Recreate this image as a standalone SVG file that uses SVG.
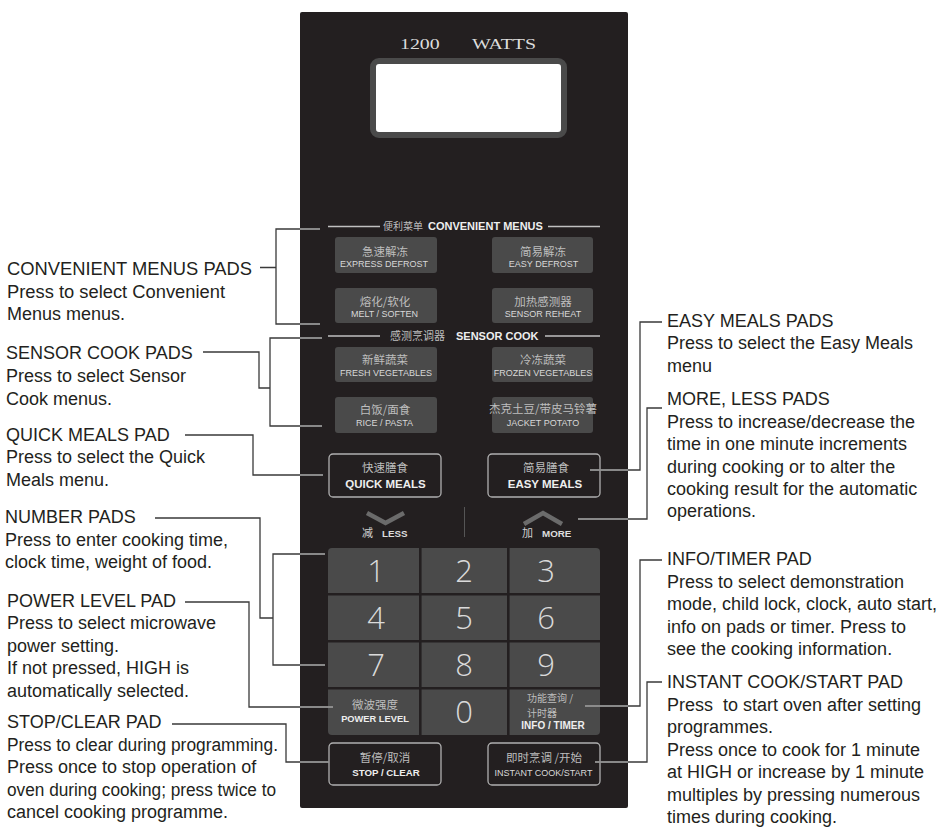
<svg xmlns="http://www.w3.org/2000/svg" xmlns:xlink="http://www.w3.org/1999/xlink" width="946" height="829" viewBox="0 0 946 829">
<style>
.lbl{font-family:"Liberation Sans",Arial,sans-serif;font-size:18px;fill:#231f20}
.cn{font-family:"Noto Sans CJK SC",sans-serif;fill:#bdbdbd;text-anchor:middle;font-size:11.5px}
.en{font-family:"Liberation Sans",Arial,sans-serif;fill:#d8d8d8;text-anchor:middle;font-size:9px}
.enb{font-family:"Liberation Sans",Arial,sans-serif;fill:#eeeeee;text-anchor:middle;font-weight:bold}
.btn{fill:#4a4a4a}
.obtn{fill:none;stroke:#b0b0b0;stroke-width:1.3}
.digit{font-family:"Open Sans",sans-serif;font-weight:300;font-size:31px;fill:#dadada;text-anchor:middle}
.hdr{stroke:#c0c0c0;stroke-width:1.5}
.chev{fill:none;stroke:#6b6b6b;stroke-width:4.5}
</style>
<defs>
<clipPath id="panelClip"><rect x="300" y="12" width="328" height="796"/></clipPath>
</defs>
<rect width="946" height="829" fill="#ffffff"/>

<g id="panel">
<rect x="300" y="12" width="328" height="796" rx="2" fill="#231f20"/>
<g transform="translate(400,49) scale(1.42,1)" font-family="Liberation Serif,serif" font-size="14" fill="#dcdcdc">
<text x="0" y="0">1200</text>
<text x="50.7" y="0">WATTS</text>
</g>
</g>

<g id="display">
<rect x="373" y="61" width="191" height="74" rx="6" fill="#ffffff" stroke="#4a4a4a" stroke-width="6"/>
</g>

<g id="hdr-convenient">
<line class="hdr" x1="328" y1="226.5" x2="380" y2="226.5"/>
<line class="hdr" x1="548" y1="226.5" x2="600" y2="226.5"/>
<text x="383" y="230" font-family="Noto Sans CJK SC,sans-serif" font-size="10" fill="#bdbdbd">便利菜单</text>
<text x="428" y="229.5" font-family="Liberation Sans,Arial,sans-serif" font-size="11" font-weight="bold" fill="#eeeeee">CONVENIENT MENUS</text>
</g>

<g id="btn-express-defrost">
<rect class="btn" x="335" y="237" width="102" height="36" rx="3"/>
<text class="cn" x="385" y="256">急速解冻</text>
<text class="en" x="384" y="267" font-size="9.5">EXPRESS DEFROST</text>
</g>
<g id="btn-easy-defrost">
<rect class="btn" x="492" y="237" width="101" height="36" rx="3"/>
<text class="cn" x="543" y="256">简易解冻</text>
<text class="en" x="543.5" y="267" font-size="8.8">EASY DEFROST</text>
</g>
<g id="btn-melt-soften">
<rect class="btn" x="335" y="288" width="102" height="35" rx="3"/>
<text class="cn" x="385" y="306">熔化/软化</text>
<text class="en" x="384.5" y="317" font-size="9.5">MELT / SOFTEN</text>
</g>
<g id="btn-sensor-reheat">
<rect class="btn" x="492" y="288" width="101" height="35" rx="3"/>
<text class="cn" x="543" y="306">加热感测器</text>
<text class="en" x="543" y="317" font-size="8.7">SENSOR REHEAT</text>
</g>

<g id="hdr-sensor">
<line class="hdr" x1="328" y1="336" x2="380" y2="336"/>
<line class="hdr" x1="545" y1="336" x2="600" y2="336"/>
<text x="390" y="340" font-family="Noto Sans CJK SC,sans-serif" font-size="11" fill="#bdbdbd">感测烹调器</text>
<text x="456" y="339.5" font-family="Liberation Sans,Arial,sans-serif" font-size="11" font-weight="bold" fill="#eeeeee">SENSOR COOK</text>
</g>

<g id="btn-fresh-veg">
<rect class="btn" x="335" y="347" width="102" height="35" rx="3"/>
<text class="cn" x="385" y="364">新鲜蔬菜</text>
<text class="en" x="386" y="376" font-size="8.4">FRESH VEGETABLES</text>
</g>
<g id="btn-frozen-veg">
<rect class="btn" x="492" y="347" width="101" height="35" rx="3"/>
<text class="cn" x="543" y="364">冷冻蔬菜</text>
<text class="en" x="543" y="376" font-size="8.4">FROZEN VEGETABLES</text>
</g>
<g id="btn-rice-pasta">
<rect class="btn" x="335" y="397" width="102" height="36" rx="3"/>
<text class="cn" x="385" y="414">白饭/面食</text>
<text class="en" x="384.5" y="426" font-size="9.5">RICE / PASTA</text>
</g>
<g id="btn-jacket-potato">
<rect class="btn" x="492" y="397" width="101" height="36" rx="3"/>
<text class="cn" x="543" y="413" font-size="9">杰克土豆/带皮马铃薯</text>
<text class="en" x="543" y="426" font-size="8.8">JACKET POTATO</text>
</g>

<g id="btn-quick-meals">
<rect class="obtn" x="329" y="454" width="112" height="43" rx="4"/>
<text class="cn" x="385" y="472">快速膳食</text>
<text class="enb" x="385.5" y="488" font-size="11.5">QUICK MEALS</text>
</g>
<g id="btn-easy-meals">
<rect class="obtn" x="488" y="454" width="112" height="43" rx="4"/>
<text class="cn" x="546" y="472">简易膳食</text>
<text class="enb" x="545" y="488" font-size="11.5">EASY MEALS</text>
</g>

<g id="btn-less">
<polyline class="chev" points="367,513 385.5,523 404,513"/>
<text x="362" y="537" font-family="Noto Sans CJK SC,sans-serif" font-size="11" fill="#cfcfcf">减</text>
<text x="382" y="537" font-family="Liberation Sans,Arial,sans-serif" font-size="9.8" font-weight="bold" fill="#dddddd">LESS</text>
</g>
<line x1="464.5" y1="507" x2="464.5" y2="537" stroke="#555555" stroke-width="1"/>
<g id="btn-more">
<polyline class="chev" points="524,524 543,513 562,524"/>
<text x="522" y="537" font-family="Noto Sans CJK SC,sans-serif" font-size="11" fill="#cfcfcf">加</text>
<text x="542" y="537" font-family="Liberation Sans,Arial,sans-serif" font-size="9.8" font-weight="bold" fill="#dddddd">MORE</text>
</g>

<g id="number-pad">
<rect x="328" y="548" width="272" height="187" rx="4" fill="#4a4a4a"/>
<g stroke="#231f20" stroke-width="2.6">
<line x1="420.3" y1="548" x2="420.3" y2="735"/>
<line x1="508.3" y1="548" x2="508.3" y2="735"/>
<line x1="328" y1="594.2" x2="600" y2="594.2"/>
<line x1="328" y1="641.3" x2="600" y2="641.3"/>
<line x1="328" y1="688.3" x2="600" y2="688.3"/>
</g>
<text class="digit" x="376" y="582">1</text>
<text class="digit" x="464" y="582">2</text>
<text class="digit" x="546" y="582">3</text>
<text class="digit" x="376" y="629">4</text>
<text class="digit" x="464" y="629">5</text>
<text class="digit" x="546" y="629">6</text>
<text class="digit" x="376" y="676">7</text>
<text class="digit" x="464" y="676">8</text>
<text class="digit" x="546" y="676">9</text>
<text class="digit" x="464" y="723">0</text>
</g>
<g id="btn-power-level">
<text class="cn" x="375" y="709" font-size="11">微波强度</text>
<text class="enb" x="375" y="722" font-size="9.3">POWER LEVEL</text>
</g>
<g id="btn-info-timer">
<text x="527" y="702" font-family="Noto Sans CJK SC,sans-serif" font-size="10" fill="#bdbdbd">功能查询 /</text>
<text x="527" y="716.5" font-family="Noto Sans CJK SC,sans-serif" font-size="10" fill="#bdbdbd">计时器</text>
<text class="enb" x="553" y="728.5" font-size="10">INFO / TIMER</text>
</g>

<g id="btn-stop-clear">
<rect class="obtn" x="329" y="743" width="112" height="42" rx="4"/>
<text class="cn" x="385" y="762">暂停/取消</text>
<text class="enb" x="386" y="776" font-size="9.7">STOP / CLEAR</text>
</g>
<g id="btn-instant-cook">
<rect class="obtn" x="488" y="743" width="112" height="42" rx="4"/>
<text class="cn" x="544" y="762">即时烹调 /开始</text>
<text class="en" x="543.5" y="776" font-size="9.2" fill="#e6e6e6">INSTANT COOK/START</text>
</g>

<g id="connectors">
<g stroke="#3a3a3a">
<g id="conn-lines" fill="none" stroke-width="1.3">
<path d="M260,267.5 H276 M320,229 H276 V324 H320"/>
<path d="M203,352 H259 V388 H270 M322,338 H270 V426 H322"/>
<path d="M185,435 H253 V475 H323"/>
<path d="M155,518 H260 V618 H273 M325,554 H273 V665 H325"/>
<path d="M185,602 H249 V707 H333"/>
<path d="M172,724 H286 V762 H329"/>
<path d="M662,322 H640 V470 H590"/>
<path d="M662,408 H647 V519 H578"/>
<path d="M662,560 H640 V706 H585"/>
<path d="M662,682 H647 V762 H595"/>
</g>
</g>
<use xlink:href="#conn-lines" href="#conn-lines" clip-path="url(#panelClip)" stroke="#a6a6a6"/>
</g>

<g id="label-convenient">
<text class="lbl" x="7" y="275" textLength="245" lengthAdjust="spacingAndGlyphs">CONVENIENT MENUS PADS</text>
<text class="lbl" x="7" y="297.5" textLength="218" lengthAdjust="spacingAndGlyphs">Press to select Convenient</text>
<text class="lbl" x="7" y="320">Menus menus.</text>
</g>
<g id="label-sensor">
<text class="lbl"><tspan x="6" y="359">SENSOR COOK PADS</tspan><tspan x="6" y="382">Press to select Sensor</tspan><tspan x="6" y="405">Cook menus.</tspan></text>
</g>
<g id="label-quick">
<text class="lbl"><tspan x="6" y="441">QUICK MEALS PAD</tspan><tspan x="6" y="463">Press to select the Quick</tspan><tspan x="6" y="486">Meals menu.</tspan></text>
</g>
<g id="label-number">
<text class="lbl"><tspan x="5" y="523">NUMBER PADS</tspan><tspan x="5" y="546">Press to enter cooking time,</tspan><tspan x="5" y="568">clock time, weight of food.</tspan></text>
</g>
<g id="label-power">
<text class="lbl"><tspan x="7" y="607">POWER LEVEL PAD</tspan><tspan x="7" y="629">Press to select microwave</tspan><tspan x="7" y="652">power setting.</tspan><tspan x="7" y="674">If not pressed, HIGH is</tspan><tspan x="7" y="697">automatically selected.</tspan></text>
</g>
<g id="label-stop">
<text class="lbl" x="7" y="728">STOP/CLEAR PAD</text>
<text class="lbl" x="7" y="751" textLength="271" lengthAdjust="spacingAndGlyphs">Press to clear during programming.</text>
<text class="lbl" x="7" y="773">Press once to stop operation of</text>
<text class="lbl" x="7" y="796" textLength="269" lengthAdjust="spacingAndGlyphs">oven during cooking; press twice to</text>
<text class="lbl" x="7" y="818">cancel cooking programme.</text>
</g>
<g id="label-easy">
<text class="lbl"><tspan x="667" y="327">EASY MEALS PADS</tspan><tspan x="667" y="349">Press to select the Easy Meals</tspan><tspan x="667" y="372">menu</tspan></text>
</g>
<g id="label-more">
<text class="lbl"><tspan x="667" y="405">MORE, LESS PADS</tspan><tspan x="667" y="428">Press to increase/decrease the</tspan><tspan x="667" y="450">time in one minute increments</tspan><tspan x="667" y="473">during cooking or to alter the</tspan><tspan x="667" y="495">cooking result for the automatic</tspan><tspan x="667" y="517">operations.</tspan></text>
</g>
<g id="label-info">
<text class="lbl"><tspan x="667" y="565">INFO/TIMER PAD</tspan><tspan x="667" y="588">Press to select demonstration</tspan><tspan x="667" y="610">mode, child lock, clock, auto start,</tspan><tspan x="667" y="633">info on pads or timer. Press to</tspan><tspan x="667" y="655">see the cooking information.</tspan></text>
</g>
<g id="label-instant">
<text class="lbl"><tspan x="667" y="688">INSTANT COOK/START PAD</tspan><tspan x="667" y="711" xml:space="preserve">Press  to start oven after setting</tspan><tspan x="667" y="733">programmes.</tspan><tspan x="667" y="756">Press once to cook for 1 minute</tspan><tspan x="667" y="778">at HIGH or increase by 1 minute</tspan><tspan x="667" y="801">multiples by pressing numerous</tspan><tspan x="667" y="823">times during cooking.</tspan></text>
</g>
</svg>
